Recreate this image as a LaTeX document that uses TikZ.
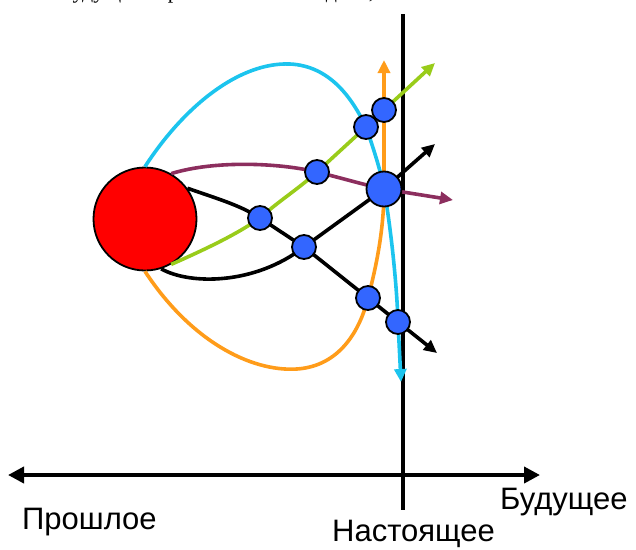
\documentclass[tikz,border=0pt]{standalone}
\usepackage{fontspec}
\setmainfont{Liberation Sans}
\newfontfamily\cutserif{Liberation Serif}
\usetikzlibrary{arrows.meta}
\definecolor{cyanline}{HTML}{1CC4EE}
\definecolor{orangeline}{HTML}{FF9C1A}
\definecolor{greenline}{HTML}{99CC1A}
\definecolor{purpleline}{HTML}{8C2E5E}
\definecolor{dotblue}{HTML}{3366FF}
\begin{document}
\begin{tikzpicture}[x=1pt,y=-1pt,
  traj/.style={line width=3.6pt},
  tip/.style={-{Triangle[length=13pt,width=12pt]}},
  dot/.style={circle,fill=dotblue,draw=black,line width=1.8pt,minimum size=24pt,inner sep=0pt},
  bigdot/.style={dot,minimum size=35pt},
  lbl/.style={font=\fontsize{31}{36}\selectfont,inner sep=0pt}]
\useasboundingbox (0,0) rectangle (636,549);
\begin{scope}
\clip (0,0) rectangle (636,549);
\node[anchor=base west,inner sep=0pt,font=\cutserif\fontsize{22}{26}\selectfont] (cut) at (62,-2) {будущего при постановке задачи,};
\end{scope}
% axes
\coordinate (vtop) at (403,14);
\coordinate (vbot) at (403,510);
\coordinate (axl) at (8,475);
\coordinate (axr) at (540,475);
\draw[line width=3.2pt] (vtop) -- (vbot);
\draw[line width=3.8pt,{Triangle[length=16pt,width=16pt]}-{Triangle[length=16pt,width=16pt]}] (axl) -- (axr);
% points
\coordinate (a) at (260,218);
\coordinate (b) at (304,247);
\coordinate (c) at (317,172);
\coordinate (d) at (366,127);
\coordinate (e) at (384,110);
\coordinate (f) at (384,189);
\coordinate (g) at (368,298);
\coordinate (h) at (398,322);
\coordinate (cyanend) at (401,382);
\coordinate (orangeend) at (384,60);
\coordinate (purpleend) at (453,200);
\coordinate (greenend) at (435,63);
\coordinate (blackoneend) at (437,353);
\coordinate (blacktwoend) at (435,144);
\node[circle,fill=red,draw=black,line width=1.8pt,minimum size=103pt,inner sep=0pt] (R) at (145,219) {};
% trajectories
\draw[traj,cyanline,tip] (R.90) .. controls (185,105) and (240,62) .. (290,64)
  .. controls (330,66) and (352,98) .. (d) .. controls (374,150) and (381,172) .. (f)
  .. controls (392,235) and (397,290) .. (h) -- (cyanend);
\draw[traj,orangeline,tip] (R.270) .. controls (190,340) and (250,372) .. (297,369)
  .. controls (340,366) and (360,330) .. (g) .. controls (378,260) and (384,225) .. (f) -- (orangeend);
\draw[traj,purpleline,tip] (R.60) .. controls (215,160) and (280,163) .. (c)
  .. controls (345,179) and (365,185) .. (f) -- (purpleend);
\draw[traj,greenline,tip] (R.-60) .. controls (215,245) and (240,232) .. (a)
  .. controls (280,200) and (297,190) .. (c) -- (d) -- (e) -- (greenend);
\draw[traj,black,tip] (R.36) .. controls (215,198) and (240,205) .. (a) -- (b) -- (g) -- (h) -- (blackoneend);
\draw[traj,black,tip] (R.-72) .. controls (190,285) and (255,285) .. (b) -- (f) -- (blacktwoend);
% dots
\node[dot] (A) at (a) {};
\node[dot] (B) at (b) {};
\node[dot] (C) at (c) {};
\node[dot] (D) at (d) {};
\node[dot] (E) at (e) {};
\node[bigdot] (F) at (f) {};
\node[dot] (G) at (g) {};
\node[dot] (H) at (h) {};
% labels
\node[lbl,anchor=base west] (past) at (22,529) {Прошлое};
\node[lbl,anchor=base west] (future) at (500,509) {Будущее};
\node[lbl,anchor=base west] (now) at (332,541) {Настоящее};
\end{tikzpicture}
\end{document}
